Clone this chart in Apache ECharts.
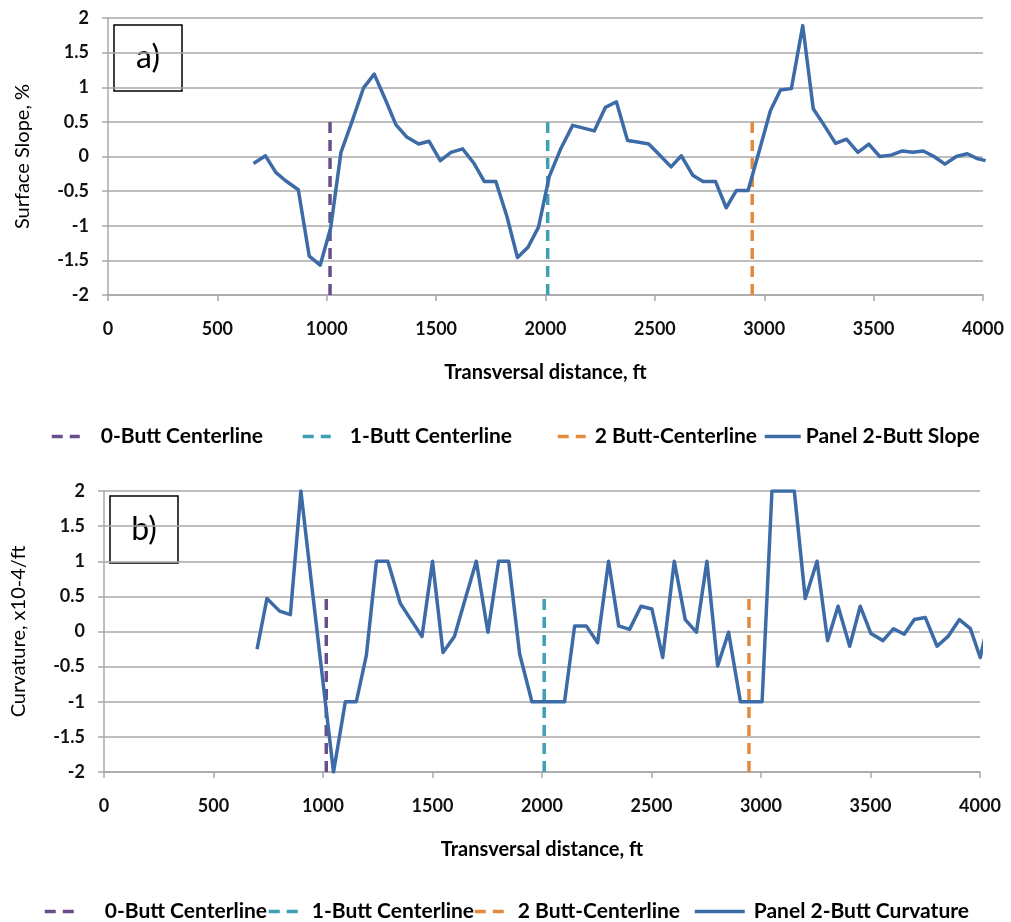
<!DOCTYPE html>
<html><head><meta charset="utf-8">
<script src="https://cdn.jsdelivr.net/npm/echarts@6/dist/echarts.min.js"></script>
<style>html,body{margin:0;padding:0;background:#fff}#c{width:1011px;height:922px}</style>
</head><body><div id="c"></div>
<script>
// ---- data ----
const centerlineNames = ['0-Butt Centerline', '1-Butt Centerline', '2 Butt-Centerline'];
const centerlineX = [1015, 2010, 2945];
const centerlineY = [-2, 0.5];

const slopeX = [665,720,767,812,870,920,970,1018,1065,1115,1168,1217,1267,1316,1366,1420,1468,1519,1568,1621,1671,1720,1773,1824,1872,1920,1968,2017,2068,2124,2174,2223,2274,2324,2375,2421,2472,2525,2574,2621,2673,2720,2777,2826,2873,2926,2978,3028,3074,3124,3176,3224,3272,3326,3376,3428,3478,3528,3580,3631,3679,3727,3776,3826,3878,3928,3974,4012];
const slopeY = [-0.1,0.01,-0.23,-0.35,-0.48,-1.44,-1.57,-1.03,0.06,0.5,0.99,1.19,0.83,0.46,0.28,0.18,0.22,-0.06,0.06,0.11,-0.09,-0.36,-0.36,-0.87,-1.46,-1.31,-1.02,-0.29,0.10,0.45,0.41,0.37,0.71,0.79,0.23,0.21,0.18,0.01,-0.15,0.01,-0.27,-0.36,-0.36,-0.74,-0.49,-0.49,0.09,0.66,0.96,0.98,1.89,0.69,0.46,0.19,0.25,0.06,0.18,0.0,0.02,0.08,0.06,0.08,0.0,-0.11,0.0,0.04,-0.03,-0.06];

const curvX = [699,744,802,851,899,950,1000,1048,1102,1152,1198,1244,1296,1353,1399,1452,1500,1548,1600,1650,1700,1753,1802,1848,1898,1954,2003,2053,2103,2149,2202,2254,2304,2350,2400,2452,2502,2551,2604,2654,2705,2753,2802,2852,2906,2954,3005,3050,3100,3152,3202,3256,3304,3352,3405,3453,3502,3557,3605,3654,3700,3750,3804,3854,3906,3956,4001,4050];
const curvY = [-0.25,0.47,0.29,0.24,2.0,0.62,-0.72,-2.0,-1.0,-1.0,-0.34,1.0,1.0,0.40,0.18,-0.07,1.0,-0.30,-0.07,0.47,1.0,-0.01,1.0,1.0,-0.32,-1.0,-1.0,-1.0,-1.0,0.08,0.08,-0.16,1.0,0.08,0.03,0.36,0.32,-0.37,1.0,0.17,-0.01,1.0,-0.49,-0.01,-1.0,-1.0,-1.0,2.0,2.0,2.0,0.47,1.0,-0.13,0.36,-0.21,0.36,-0.03,-0.13,0.04,-0.04,0.17,0.20,-0.21,-0.07,0.17,0.04,-0.37,0.3];

const slopeName = 'Panel 2-Butt Slope';
const curvName = 'Panel 2-Butt Curvature';
const xTitle = 'Transversal distance, ft';
const yTitles = ['Surface Slope, %', 'Curvature, x10-4/ft'];
const panelLabels = ['a)', 'b)'];

// ---- styles ----
const FONT = 'Lato';
const dashColors = ['#6A4E8C', '#3E9FB5', '#E38A3F'];
const mainColor = '#3C6BA7';
const gridColor = '#A8A8A8';

function zip(xs, ys) { return xs.map((x, i) => [x, ys[i]]); }

const grids = [
  { left: 108, right: 28, top: 18, height: 277 },
  { left: 104, right: 31, top: 491, height: 281 }
];

function xAxisFor(gi) {
  return {
    gridIndex: gi, type: 'value', min: 0, max: 4000, interval: 500,
    name: xTitle, nameLocation: 'middle', nameGap: 68,
    nameTextStyle: { fontFamily: FONT, fontWeight: 'bold', fontSize: 20, color: '#000' },
    axisLine: { show: true, onZero: false, lineStyle: { color: gridColor, width: 1.5 } },
    axisTick: { show: true, inside: false, length: 6, lineStyle: { color: gridColor, width: 1.5 } },
    axisLabel: { margin: 25, fontFamily: FONT, fontWeight: 'bold', fontSize: 18, color: '#111',
      formatter: v => String(v) },
    splitLine: { show: false }
  };
}
function yAxisFor(gi) {
  return {
    gridIndex: gi, type: 'value', min: -2, max: 2, interval: 0.5,
    name: yTitles[gi], nameLocation: 'middle', nameGap: 75,
    nameTextStyle: { fontFamily: FONT, fontSize: 20, color: '#000' },
    axisLine: { show: true, onZero: false, lineStyle: { color: gridColor, width: 1.5 } },
    axisTick: { show: true, inside: false, length: 6, lineStyle: { color: gridColor, width: 1.5 } },
    axisLabel: { margin: 19, fontFamily: FONT, fontWeight: 'bold', fontSize: 18, color: '#111' },
    splitLine: { show: true, lineStyle: { color: gridColor, width: 1.5 } }
  };
}

const series = [];
[0, 1].forEach(gi => {
  centerlineNames.forEach((nm, i) => {
    series.push({
      name: nm, type: 'line', xAxisIndex: gi, yAxisIndex: gi,
      data: centerlineY.map(y => [centerlineX[i], y]),
      symbol: 'none', silent: true,
      lineStyle: { color: dashColors[i], width: 3.5, type: [11, 7] },
      itemStyle: { color: dashColors[i] }
    });
  });
});
series.push({
  name: slopeName, type: 'line', xAxisIndex: 0, yAxisIndex: 0,
  data: zip(slopeX, slopeY), symbol: 'none', clip: true,
  lineStyle: { color: mainColor, width: 3.5, join: 'round' }, itemStyle: { color: mainColor }
});
series.push({
  name: curvName, type: 'line', xAxisIndex: 1, yAxisIndex: 1,
  data: zip(curvX, curvY), symbol: 'none', clip: true,
  lineStyle: { color: mainColor, width: 3.5, join: 'round' }, itemStyle: { color: mainColor }
});

// one legend component per item so each can sit where the reference shows it
function legendItem(name, left, top, iconW, pad) {
  return {
    data: [name], left: left, top: top, itemWidth: iconW, itemHeight: 14,
    selectedMode: false,
    itemStyle: { color: 'rgba(0,0,0,0)', borderWidth: 0 },
    lineStyle: { width: 3.5 },
    textStyle: { fontFamily: FONT, fontWeight: 'bold', fontSize: 21, color: '#000',
      padding: [0, 0, 0, pad] }
  };
}
const legends = [
  legendItem(centerlineNames[0], 45, 421, 28, 16),
  legendItem(centerlineNames[1], 296, 421, 28, 14),
  legendItem(centerlineNames[2], 551, 421, 28, 4),
  legendItem(slopeName, 758, 421, 36, 0),
  legendItem(centerlineNames[0], 38, 896, 30, 25),
  legendItem(centerlineNames[1], 262, 896, 32, 6),
  legendItem(centerlineNames[2], 468, 896, 32, 6),
  legendItem(curvName, 688, 896, 50, 4)
];

const chart = echarts.init(document.getElementById('c'), null, { renderer: 'canvas' });
chart.setOption({
  animation: false,
  backgroundColor: '#fff',
  grid: grids,
  xAxis: [xAxisFor(0), xAxisFor(1)],
  yAxis: [yAxisFor(0), yAxisFor(1)],
  legend: legends,
  graphic: [
    { type: 'rect', shape: { x: 114, y: 25, width: 68, height: 66 },
      style: { fill: '#fff', stroke: '#000', lineWidth: 1.5 } },
    { type: 'text', x: 148, y: 58, style: { text: panelLabels[0], font: '32px ' + FONT, fill: '#000', align: 'center', verticalAlign: 'middle' } },
    { type: 'rect', shape: { x: 110, y: 496, width: 68, height: 67 },
      style: { fill: '#fff', stroke: '#000', lineWidth: 1.5 } },
    { type: 'text', x: 144, y: 530, style: { text: panelLabels[1], font: '32px ' + FONT, fill: '#000', align: 'center', verticalAlign: 'middle' } }
  ],
  series: series
});
</script></body></html>
